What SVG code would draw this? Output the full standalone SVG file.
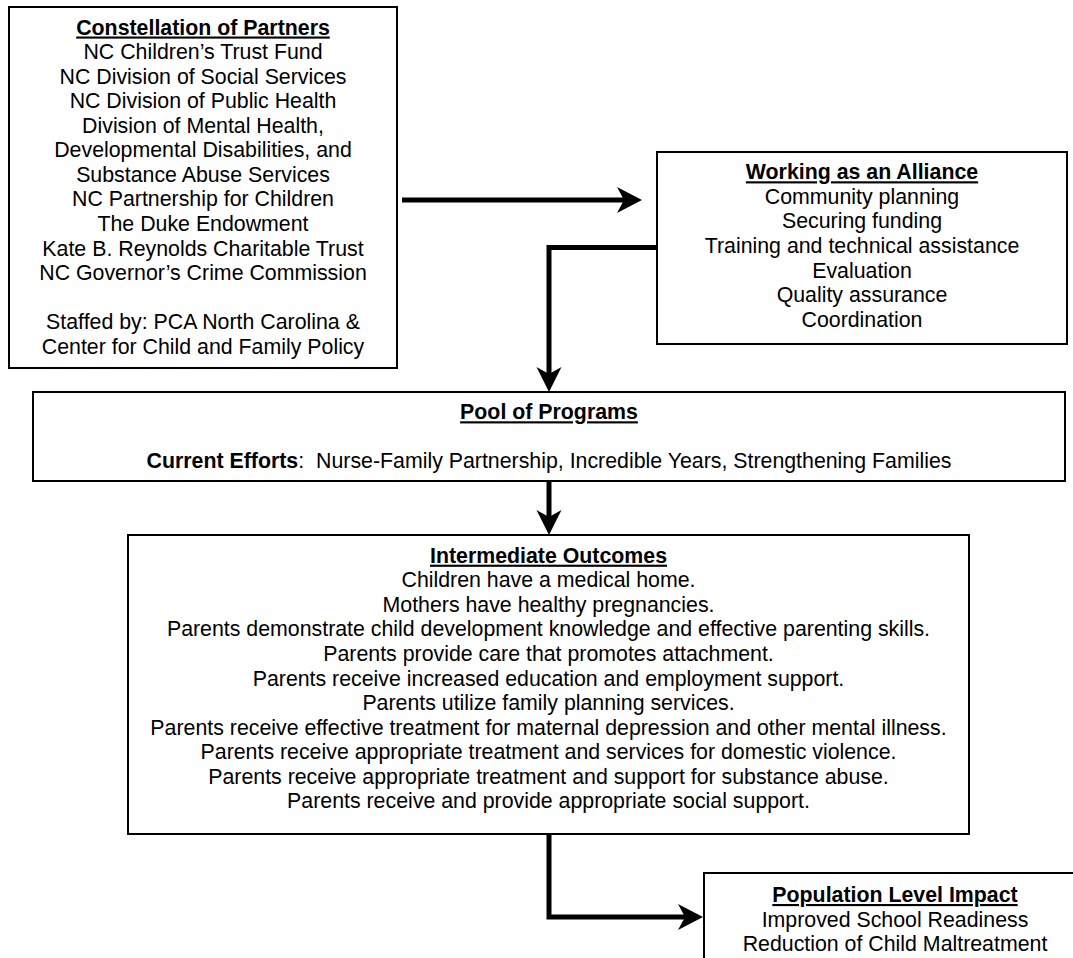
<svg xmlns="http://www.w3.org/2000/svg" width="1073" height="958" viewBox="0 0 1073 958">
<style>
  .box { fill: #fff; stroke: #000; stroke-width: 2; }
  text { font-family: "Liberation Sans", Arial, sans-serif; font-size: 21.33px; fill: #000; text-anchor: middle; }
  .t { font-weight: bold; text-decoration: underline; }
  .b { font-weight: bold; }
  .conn { fill: none; stroke: #000; stroke-width: 5; stroke-linejoin: miter; }
  .head { fill: #000; stroke: none; }
</style>
<rect width="1073" height="958" fill="#fff"/>
<g id="connectors">
  <path class="conn" d="M402,200 H625"/>
  <path class="head" d="M642,200 L617,187 L624,200 L617,213 Z"/>
  <path class="conn" d="M657,247.5 H549 V376"/>
  <path class="head" d="M549,392 L536.5,367 L549,374 L561.5,367 Z"/>
  <path class="conn" d="M549,481 V519"/>
  <path class="head" d="M549,535 L536.5,510 L549,517 L561.5,510 Z"/>
  <path class="conn" d="M549,834 V917 H687"/>
  <path class="head" d="M703,917 L678,904 L685,917 L678,930 Z"/>
</g>
<g id="partners">
  <rect class="box" x="9" y="7" width="388" height="361"/>
  <text x="203" y="34.5" class="t">Constellation of Partners</text>
  <text x="203" y="59.1">NC Children’s Trust Fund</text>
  <text x="203" y="83.6">NC Division of Social Services</text>
  <text x="203" y="108.2">NC Division of Public Health</text>
  <text x="203" y="132.7">Division of Mental Health,</text>
  <text x="203" y="157.3">Developmental Disabilities, and</text>
  <text x="203" y="181.9">Substance Abuse Services</text>
  <text x="203" y="206.4">NC Partnership for Children</text>
  <text x="203" y="231.0">The Duke Endowment</text>
  <text x="203" y="255.5">Kate B. Reynolds Charitable Trust</text>
  <text x="203" y="280.1">NC Governor’s Crime Commission</text>
  <text x="203" y="329.2">Staffed by: PCA North Carolina &amp;</text>
  <text x="203" y="353.8">Center for Child and Family Policy</text>
</g>
<g id="alliance">
  <rect class="box" x="657" y="152" width="410" height="192"/>
  <text x="862" y="179.3" class="t">Working as an Alliance</text>
  <text x="862" y="203.9">Community planning</text>
  <text x="862" y="228.4">Securing funding</text>
  <text x="862" y="253.0">Training and technical assistance</text>
  <text x="862" y="277.5">Evaluation</text>
  <text x="862" y="302.1">Quality assurance</text>
  <text x="862" y="326.7">Coordination</text>
</g>
<g id="pool">
  <rect class="box" x="33" y="392" width="1032" height="89"/>
  <text x="549" y="419.3" class="t">Pool of Programs</text>
  <text x="549" y="468.4" xml:space="preserve"><tspan class="b">Current Efforts</tspan>:  Nurse-Family Partnership, Incredible Years, Strengthening Families</text>
</g>
<g id="intermediate">
  <rect class="box" x="128" y="535" width="841" height="299"/>
  <text x="548.5" y="562.7" class="t">Intermediate Outcomes</text>
  <text x="548.5" y="587.3">Children have a medical home.</text>
  <text x="548.5" y="611.8">Mothers have healthy pregnancies.</text>
  <text x="548.5" y="636.4">Parents demonstrate child development knowledge and effective parenting skills.</text>
  <text x="548.5" y="660.9">Parents provide care that promotes attachment.</text>
  <text x="548.5" y="685.5">Parents receive increased education and employment support.</text>
  <text x="548.5" y="710.1">Parents utilize family planning services.</text>
  <text x="548.5" y="734.6">Parents receive effective treatment for maternal depression and other mental illness.</text>
  <text x="548.5" y="759.2">Parents receive appropriate treatment and services for domestic violence.</text>
  <text x="548.5" y="783.7">Parents receive appropriate treatment and support for substance abuse.</text>
  <text x="548.5" y="808.3">Parents receive and provide appropriate social support.</text>
</g>
<g id="impact">
  <rect class="box" x="704" y="873" width="382" height="100"/>
  <text x="895" y="902" class="t">Population Level Impact</text>
  <text x="895" y="926.5">Improved School Readiness</text>
  <text x="895" y="951">Reduction of Child Maltreatment</text>
</g>
</svg>
